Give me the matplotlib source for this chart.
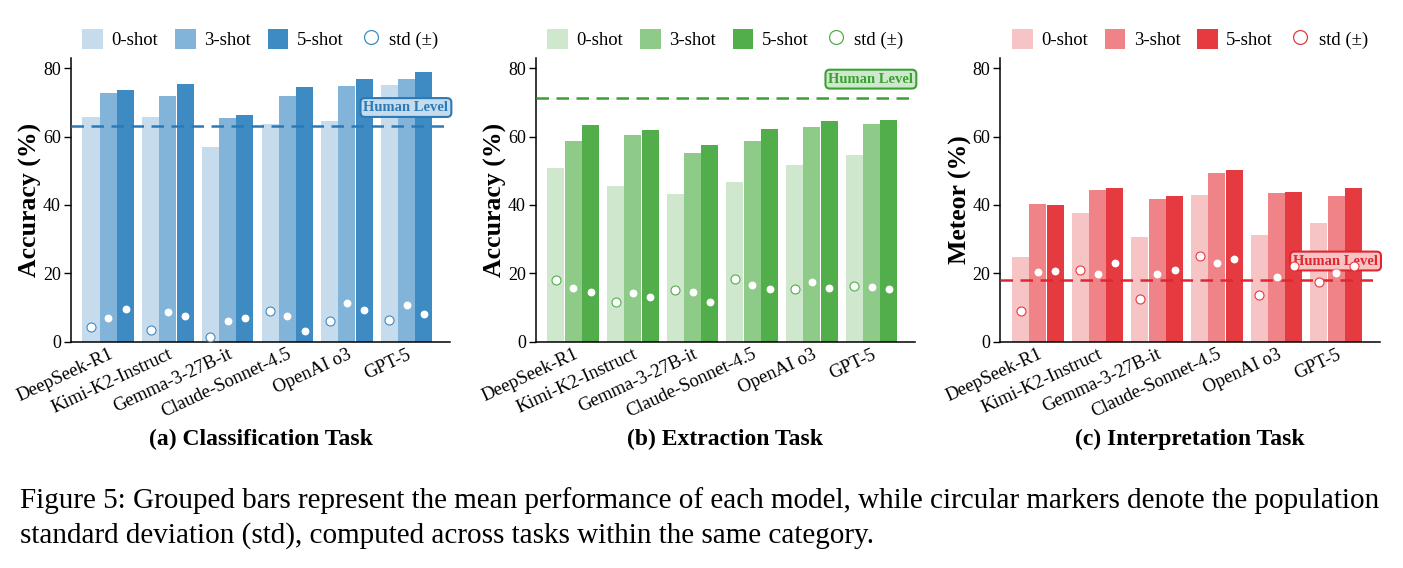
import numpy as np
import matplotlib
matplotlib.use("Agg")
import matplotlib.pyplot as plt
from matplotlib.patches import Patch
from matplotlib.lines import Line2D

plt.rcParams['font.family'] = ['Liberation Serif', 'DejaVu Serif']
plt.rcParams['mathtext.fontset'] = 'stix'

models = ['DeepSeek-R1', 'Kimi-K2-Instruct', 'Gemma-3-27B-it',
          'Claude-Sonnet-4.5', 'OpenAI o3', 'GPT-5']
shots = ['0-shot', '3-shot', '5-shot']

# (a) classification - accuracy
cls_0 = [65.8, 65.8, 57.0, 63.6, 64.7, 75.0]
cls_3 = [72.7, 72.0, 65.4, 72.0, 74.7, 76.7]
cls_5 = [73.6, 75.3, 66.3, 74.6, 76.9, 79.0]
cls_std0 = [4.4, 3.5, 1.4, 9.1, 6.0, 6.4]
cls_std3 = [7.0, 8.8, 6.1, 7.4, 11.3, 10.6]
cls_std5 = [9.7, 7.4, 7.0, 3.2, 9.4, 8.2]
cls_human = 63.0

# (b) extraction - accuracy
ext_0 = [50.9, 45.6, 43.1, 46.7, 51.6, 54.5]
ext_3 = [58.7, 60.5, 55.1, 58.6, 62.9, 63.6]
ext_5 = [63.5, 62.0, 57.6, 62.2, 64.6, 64.9]
ext_std0 = [18.0, 11.5, 15.1, 18.2, 15.4, 16.4]
ext_std3 = [15.6, 14.2, 14.6, 16.5, 17.4, 16.1]
ext_std5 = [14.4, 13.2, 11.6, 15.4, 15.6, 15.3]
ext_human = 71.3

# (c) interpretation - meteor
int_0 = [24.9, 37.5, 30.6, 42.8, 31.2, 34.8]
int_3 = [40.3, 44.5, 41.7, 49.3, 43.5, 42.5]
int_5 = [40.1, 44.9, 42.6, 50.3, 43.9, 44.9]
int_std0 = [8.9, 21.1, 12.6, 25.2, 13.8, 17.6]
int_std3 = [20.3, 19.8, 19.9, 23.1, 19.0, 20.0]
int_std5 = [20.7, 23.1, 21.0, 24.2, 22.1, 22.1]
int_human = 18.1

blues = ['#c6dcec', '#82b3d8', '#3e8ac3']
greens = ['#cfe8cd', '#8ecb89', '#52ae4b']
reds = ['#f7c4c6', '#ef8387', '#e53a40']

panels = [
    ("(a) Classification Task", "Accuracy (%)", [cls_0, cls_3, cls_5],
     [cls_std0, cls_std3, cls_std5], cls_human, blues, '#2a7ab9'),
    ("(b) Extraction Task", "Accuracy (%)", [ext_0, ext_3, ext_5],
     [ext_std0, ext_std3, ext_std5], ext_human, greens, '#3aa034'),
    ("(c) Interpretation Task", "Meteor (%)", [int_0, int_3, int_5],
     [int_std0, int_std3, int_std5], int_human, reds, '#e0262e'),
]

fig = plt.figure(figsize=(14.03, 5.68), dpi=100)
lefts = [0.0504, 0.3818, 0.7130]
w = 0.2705
x = np.arange(len(models))
bw = 0.285

for (title, ylab, vals, stds, human, cols, hcol), left in zip(panels, lefts):
    ax = fig.add_axes([left, 0.3984, w, 0.4996])
    for i in range(3):
        off = (i - 1) * 0.29
        ax.bar(x + off, vals[i], bw, color=cols[i], zorder=2)
        ec = cols[2] if i == 0 else cols[i]
        ax.scatter(x + off, stds[i], s=42, facecolor='white', edgecolor=ec,
                   linewidth=0.8, zorder=6)
    ax.axhline(human, color=hcol, ls=(0, (5, 3)), lw=1.8, zorder=3)
    ax.text(5.7, human + 5.5, "Human Level", ha='right', va='center',
            fontsize=10.5, fontweight='bold', color=hcol, zorder=4,
            bbox=dict(boxstyle='round,pad=0.2,rounding_size=0.3',
                      fc=cols[0], ec=hcol, lw=1.5))
    ax.set_xlim(-0.63, 5.73)
    ax.set_ylim(0, 83)
    ax.set_yticks([0, 20, 40, 60, 80])
    ax.tick_params(axis='y', labelsize=13, length=5, width=1, pad=2)
    ax.tick_params(axis='x', length=0, pad=3)
    ax.set_xticks(x)
    ax.set_xticklabels(models, rotation=25, ha='right', fontsize=13.5,
                       rotation_mode='anchor')
    ax.set_ylabel(ylab, fontsize=18.5, fontweight='bold', labelpad=0.5)
    for s in ['top', 'right']:
        ax.spines[s].set_visible(False)
    for s in ['left', 'bottom']:
        ax.spines[s].set_linewidth(1.1)

    handles = [Patch(facecolor=c, edgecolor='none') for c in cols]
    handles.append(Line2D([], [], ls='none', marker='o', markersize=10,
                          markerfacecolor='white', markeredgecolor=cols[2],
                          markeredgewidth=0.9))
    ax.legend(handles, shots + ['std (±)'], loc='center', ncol=4,
              bbox_to_anchor=(0.5, 1.065), frameon=False, fontsize=13.5,
              handlelength=1.1, handleheight=1.2, columnspacing=0.9,
              handletextpad=0.45)
    fig.text(left + w / 2, 0.226, title, ha='center', va='center',
             fontsize=17, fontweight='bold')

fig.text(0.0143, 0.119, "Figure 5: Grouped bars represent the mean performance of each model, "
         "while circular markers denote the population", ha='left', va='center', fontsize=21)
fig.text(0.0143, 0.057, "standard deviation (std), computed across tasks within the same category.",
         ha='left', va='center', fontsize=21)

fig.savefig("out.png", dpi=100)
